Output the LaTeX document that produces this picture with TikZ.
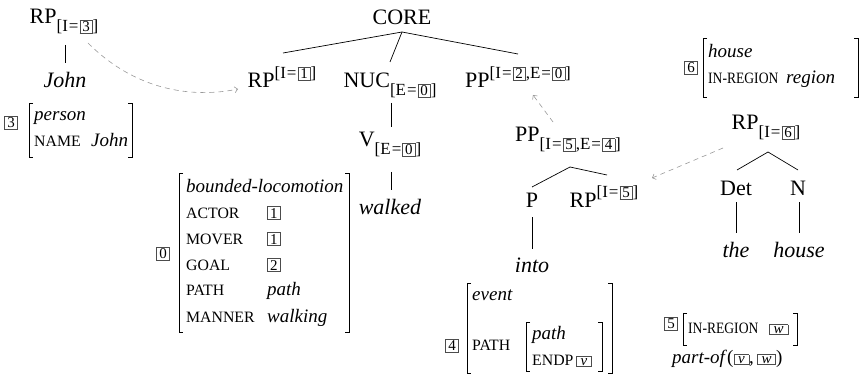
\documentclass[tikz,border=0pt]{standalone}
\usepackage{fontspec}
\setmainfont{Liberation Serif}
\usetikzlibrary{arrows.meta}

\definecolor{tagframe}{gray}{0.3}
\definecolor{linkgray}{gray}{0.6}

% fonts for tree labels and attribute-value matrices
\newcommand\treefont{\fontsize{22}{26}\selectfont}
\newcommand\avmfont{\fontsize{19}{26}\selectfont}
% boxed co-index tag (digits) and boxed variable (letters)
\newcommand\tbox[1]{{\setlength\fboxsep{1.3pt}\setlength\fboxrule{0.6pt}%
  \color{tagframe}\fbox{\color{black}\fontsize{15}{15}\selectfont\kern0.9pt#1\kern0.9pt}}}
\newcommand\varbox[1]{{\setlength\fboxsep{1.3pt}\setlength\fboxrule{0.6pt}%
  \color{tagframe}\fbox{\color{black}\fontsize{15}{15}\selectfont\kern2.6pt\textit{#1}\kern2.6pt}}}
% lowered / raised index annotations on tree labels
\newcommand\lo[1]{\raisebox{-8pt}{\fontsize{17}{18}\selectfont #1}}
\newcommand\hi[1]{\raisebox{9.5pt}{\fontsize{17}{18}\selectfont #1}}
\newcommand\eqs{\hspace{0.06em}=\hspace{0.06em}}
% feature names (small capitals), optionally in a fixed-width column
\newcommand\feat[1]{{\fontsize{15.8}{16}\selectfont #1}}
\newcommand\fn[2]{\makebox[#1][l]{\feat{#2}}}
\newcommand\inregion{\scalebox{0.86}[1]{IN-REGION}}
% pair of square brackets: x-left, x-right, y-top, y-bottom
\newcommand\avmbrackets[4]{%
  \draw[brk] (#1+4,#3) -- (#1,#3) -- (#1,#4) -- (#1+4,#4);
  \draw[brk] (#2-4,#3) -- (#2,#3) -- (#2,#4) -- (#2-4,#4);}

\begin{document}
\begin{tikzpicture}[x=1pt, y=-1pt,
  lbl/.style={inner sep=0pt, anchor=base, font=\treefont},
  fs/.style={inner sep=0pt, anchor=base west, font=\avmfont},
  tag/.style={inner sep=0pt, anchor=center},
  branch/.style={line width=0.7pt},
  brk/.style={line width=0.9pt},
  link/.style={linkgray, line width=0.6pt, dash pattern=on 5pt off 4pt,
    -{Straight Barb[length=3pt,width=6pt]}}]
\useasboundingbox (0,0) rectangle (861,374);

% ---- tree labels ----
\node[lbl] (rp3)    at (64,24)   {RP\lo{[I\eqs\tbox{3}]}};
\node[lbl] (john)   at (65,88)   {\textit{John}};
\node[lbl] (core)   at (402,25)  {CORE};
\node[lbl] (rp1)    at (282,88)  {RP\hi{[I\eqs\tbox{1}]}};
\node[lbl] (nuc)    at (390,88)  {NUC\lo{[E\eqs\tbox{0}]}};
\node[lbl] (pp2)    at (518,88)  {PP\hi{[I\eqs\tbox{2},E\eqs\tbox{0}]}};
\node[lbl] (v)      at (390,147) {V\lo{[E\eqs\tbox{0}]}};
\node[lbl] (walked) at (390,214) {\textit{walked}};
\node[lbl] (pp5)    at (568,142) {PP\lo{[I\eqs\tbox{5},E\eqs\tbox{4}]}};
\node[lbl] (p)      at (532,207) {P};
\node[lbl] (rp5)    at (604,207) {RP\hi{[I\eqs\tbox{5}]}};
\node[lbl] (into)   at (532,272) {\textit{into}};
\node[lbl] (rp6)    at (766,130) {RP\lo{[I\eqs\tbox{6}]}};
\node[lbl] (det)    at (736,195) {Det};
\node[lbl] (n)      at (798,195) {N};
\node[lbl] (the)    at (736,257) {\textit{the}};
\node[lbl] (house)  at (799,257) {\textit{house}};

% ---- branches ----
\draw[branch] ([xshift=1pt,yshift=-21pt]rp3.base) -- ([yshift=25pt]john.base);
\draw[branch] ([yshift=-7pt]core.base) -- ([xshift=1pt,yshift=35pt]rp1.base);
\draw[branch] ([yshift=-7pt]core.base) -- ([yshift=26pt]nuc.base);
\draw[branch] ([yshift=-7pt]core.base) -- ([yshift=34pt]pp2.base);
\draw[branch] ([xshift=1pt,yshift=-15pt]nuc.base) -- ([xshift=1pt,yshift=20pt]v.base);
\draw[branch] ([xshift=1pt,yshift=-25pt]v.base) -- ([xshift=1pt,yshift=24pt]walked.base);
\draw[branch] ([xshift=2pt,yshift=-25pt]pp5.base) -- ([yshift=20pt]p.base);
\draw[branch] ([xshift=2pt,yshift=-25pt]pp5.base) -- ([xshift=3pt,yshift=32pt]rp5.base);
\draw[branch] ([yshift=-10pt]p.base) -- ([yshift=23pt]into.base);
\draw[branch] ([xshift=2pt,yshift=-22pt]rp6.base) -- ([xshift=1pt,yshift=25pt]det.base);
\draw[branch] ([xshift=2pt,yshift=-22pt]rp6.base) -- ([yshift=25pt]n.base);
\draw[branch] ([yshift=-7pt]det.base) -- ([yshift=24pt]the.base);
\draw[branch] ([xshift=1pt,yshift=-7pt]n.base) -- ([yshift=24pt]house.base);

% ---- co-reference links ----
\draw[link] ([xshift=24pt,yshift=-19pt]rp3.base)
  .. controls (140,95) and (200,97) .. ([xshift=-44pt,yshift=-1pt]rp1.base);
\draw[link] ([xshift=-15pt,yshift=20pt]pp5.base) -- ([xshift=15pt,yshift=-7pt]pp2.base);
\draw[link] ([xshift=-43pt,yshift=-18pt]rp6.base) -- ([xshift=48pt,yshift=29pt]rp5.base);

% ---- attribute-value matrices ----
% [3] person
\node[tag] (t3) at (11,123) {\tbox{3}};
\node[fs] (fs3) at (34,121) {\begin{tabular}[t]{@{}l@{}l@{}}
  \multicolumn{2}{@{}l@{}}{\textit{person}}\\
  \fn{57pt}{NAME} & \textit{John}\end{tabular}};
\avmbrackets{29}{132}{103}{157}

% [0] bounded-locomotion
\node[tag] (t0) at (163,254) {\tbox{0}};
\node[fs] (fs0) at (186,192) {\begin{tabular}[t]{@{}l@{}l@{}}
  \multicolumn{2}{@{}l@{}}{\textit{bounded-locomotion}}\\
  \fn{81pt}{ACTOR}  & \tbox{1}\\
  \fn{81pt}{MOVER}  & \tbox{1}\\
  \fn{81pt}{GOAL}   & \tbox{2}\\
  \fn{81pt}{PATH}   & \textit{path}\\
  \fn{81pt}{MANNER} & \textit{walking}\end{tabular}};
\avmbrackets{179}{349}{173}{332}

% [6] house
\node[tag] (t6) at (691,68) {\tbox{6}};
\node[fs] (fs6) at (708,58) {\begin{tabular}[t]{@{}l@{}l@{}}
  \multicolumn{2}{@{}l@{}}{\textit{house}}\\
  \fn{78pt}{\inregion} & \textit{region}\end{tabular}};
\avmbrackets{703}{858}{38}{97}

% [4] event with embedded path
\node[tag] (t4) at (452,346) {\tbox{4}};
\node[fs] (ev)   at (472,300) {\textit{event}};
\node[fs] (pthf) at (472,350) {\feat{PATH}};
\node[fs] (fs4i) at (532,339) {\begin{tabular}[t]{@{}l@{}l@{}}
  \multicolumn{2}{@{}l@{}}{\textit{path}}\\
  \fn{44pt}{ENDP} & \varbox{v}\end{tabular}};
\avmbrackets{467}{612}{283}{373}
\avmbrackets{526}{602}{322}{371}

% [5] region with part-of constraint
\node[tag] (t5) at (671,324) {\tbox{5}};
\node[fs] (fs5) at (688,333) {\fn{81pt}{\inregion}\varbox{w}};
\node[fs] (partof) at (672,363) {\textit{part-of}(\varbox{v},\,\varbox{w})};
\avmbrackets{683}{797}{313}{345}
\end{tikzpicture}
\end{document}
